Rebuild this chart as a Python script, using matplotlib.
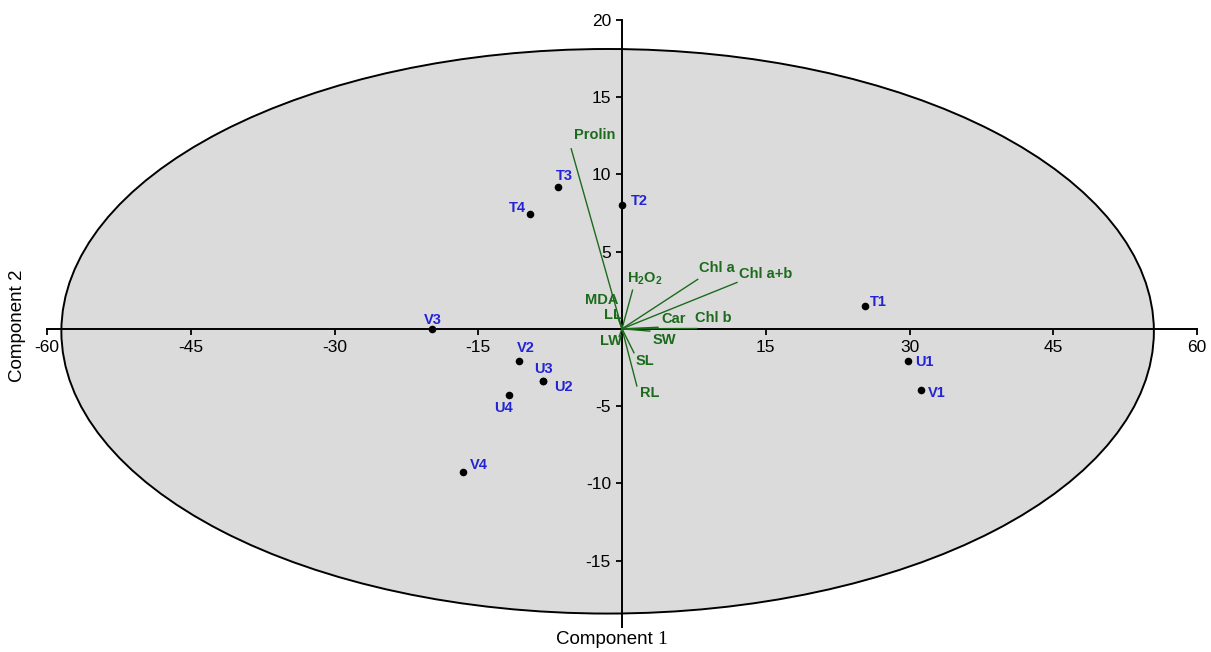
import matplotlib.pyplot as plt
from matplotlib.patches import Ellipse

plt.rcParams['font.family'] = ['Liberation Sans', 'DejaVu Sans']
plt.rcParams['mathtext.fontset'] = 'custom'
plt.rcParams['mathtext.rm'] = 'Liberation Serif'
plt.rcParams['mathtext.bf'] = 'Liberation Sans:bold'
plt.rcParams['axes.unicode_minus'] = False

# sample scores (component 1, component 2)
samples = ['T1', 'T2', 'T3', 'T4', 'U1', 'U2', 'U3', 'U4', 'V1', 'V2', 'V3', 'V4']
pc1 = [25.4, 0.0, -6.7, -9.6, 29.8, -8.2, -8.2, -11.8, 31.2, -10.8, -19.8, -16.6]
pc2 = [1.45, 8.0, 9.2, 7.4, -2.1, -3.35, -3.35, -4.3, -3.95, -2.1, 0.0, -9.25]

# variable loadings
variables = ['Prolin', r'$\mathbf{H_2O_2}$', 'Chl a', 'Chl a+b', 'MDA', 'LL',
             'Car', 'Chl b', 'LW', 'SW', 'SL', 'RL']
load1 = [-5.3, 1.1, 7.9, 12.0, -0.5, -0.35, 3.75, 7.8, -0.3, 2.9, 1.25, 1.55]
load2 = [11.65, 2.5, 3.2, 3.0, 0.9, 0.6, 0.1, 0.02, -0.5, -0.15, -1.55, -3.7]

xticks = [-60, -45, -30, -15, 15, 30, 45, 60]
yticks = [-15, -10, -5, 5, 10, 15, 20]

# label offsets in pixels
sample_off = [(13, 4), (17, 4), (7, 11), (-13, 6), (17, -1), (20, -6),
              (0, 12), (-5, -13), (16, -3), (7, 13), (1, 9), (16, 7)]
var_off = [(23, 14), (12, 11), (19, 11), (29, 8), (-15, 15), (-6, 5),
           (16, 8), (17, 10), (-8, -4), (15, -9), (11, -8), (13, -7)]

green = '#1c6b1c'
blue = '#2323d4'

fig = plt.figure(figsize=(12.11, 6.52), dpi=100)
ax = fig.add_axes([47 / 1211, 25 / 652, 1150 / 1211, 607.2 / 652])
ax.set_xlim(-60, 60)
ax.set_ylim(-19.3, 20)

ell = Ellipse((-1.5, -0.16), 114, 36.54, facecolor='#dbdbdb', edgecolor='black',
              linewidth=1.4, zorder=0, clip_on=False)
ax.add_patch(ell)

for s in ['top', 'right']:
    ax.spines[s].set_visible(False)
for s in ['left', 'bottom']:
    ax.spines[s].set_position(('data', 0))
    ax.spines[s].set_linewidth(1.4)
    ax.spines[s].set_zorder(1)

ax.set_xticks(xticks)
ax.set_yticks(yticks)
ax.tick_params(direction='out', length=4, width=1.3, labelsize=12.5, pad=4)
ax.set_facecolor('none')

for x, y in zip(load1, load2):
    ax.plot([0, x], [0, y], color=green, lw=1.0, zorder=2)
for name, x, y, (dx, dy) in zip(variables, load1, load2, var_off):
    ax.annotate(name, (x, y), xytext=(dx, dy), textcoords='offset pixels',
                ha='center', va='center', color=green, fontsize=10.5,
                fontweight='bold', zorder=4)

ax.scatter(pc1, pc2, s=30, color='black', zorder=3, linewidths=0)
for name, x, y, (dx, dy) in zip(samples, pc1, pc2, sample_off):
    ax.annotate(name, (x, y), xytext=(dx, dy), textcoords='offset pixels',
                ha='center', va='center', color=blue, fontsize=10.5,
                fontweight='bold', zorder=4)

fig.text(18 / 1211, 1 - 326 / 652, 'Component 2', rotation=90, ha='center',
         va='center', fontsize=13.5)
fig.text(653 / 1211, 1 - 640 / 652, 'Component', ha='right', va='center',
         fontsize=13.5)
fig.text(657 / 1211, 1 - 640 / 652, '1', ha='left', va='center', fontsize=14,
         family='Liberation Serif')

fig.savefig('out.png', dpi=100)
